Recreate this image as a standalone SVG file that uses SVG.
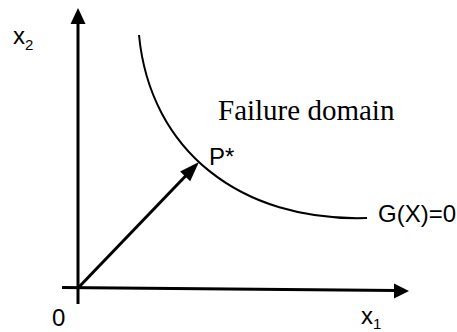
<svg xmlns="http://www.w3.org/2000/svg" width="457" height="332" viewBox="0 0 457 332">
  <style>
    .ax { stroke: #000; stroke-width: 3; fill: none; }
    .curve { stroke: #000; stroke-width: 2; fill: none; }
    .head { fill: #000; stroke: none; }
    .lbl { font-family: "Liberation Sans", Arial, sans-serif; font-size: 24px; fill: #000; }
    .sub { font-size: 15px; }
    .serif { font-family: "Liberation Serif", "Times New Roman", serif; font-size: 29px; fill: #000; }
  </style>
  <rect width="457" height="332" fill="#fff"/>
  <g id="connectors">
    <line class="ax" x1="78" y1="304" x2="78" y2="22"/>
    <polygon class="head" points="78,8 70.5,24 85.5,24"/>
    <line class="ax" x1="62" y1="287.5" x2="396" y2="290.5"/>
    <polygon class="head" points="409,291 394,283.5 394,298.5"/>
    <line class="ax" x1="78" y1="288" x2="187" y2="174.5"/>
    <polygon class="head" points="199,162 190.2,181.3 180.1,171.6"/>
  </g>
  <g id="limit-state-curve">
    <path class="curve" d="M139,35 C150,150 240,222 367,218"/>
  </g>
  <g id="axis-x2-label">
    <text class="lbl" x="13" y="44">x<tspan class="sub" dy="6">2</tspan></text>
  </g>
  <g id="origin-label">
    <text class="lbl" x="52" y="326">0</text>
  </g>
  <g id="axis-x1-label">
    <text class="lbl" x="361" y="324">x<tspan class="sub" dy="5">1</tspan></text>
  </g>
  <g id="design-point-label">
    <text class="lbl" x="209" y="165">P*</text>
  </g>
  <g id="limit-state-label">
    <text class="lbl" x="378" y="222">G(X)=0</text>
  </g>
  <g id="failure-domain-label">
    <text class="serif" x="218" y="120">Failure domain</text>
  </g>
</svg>
